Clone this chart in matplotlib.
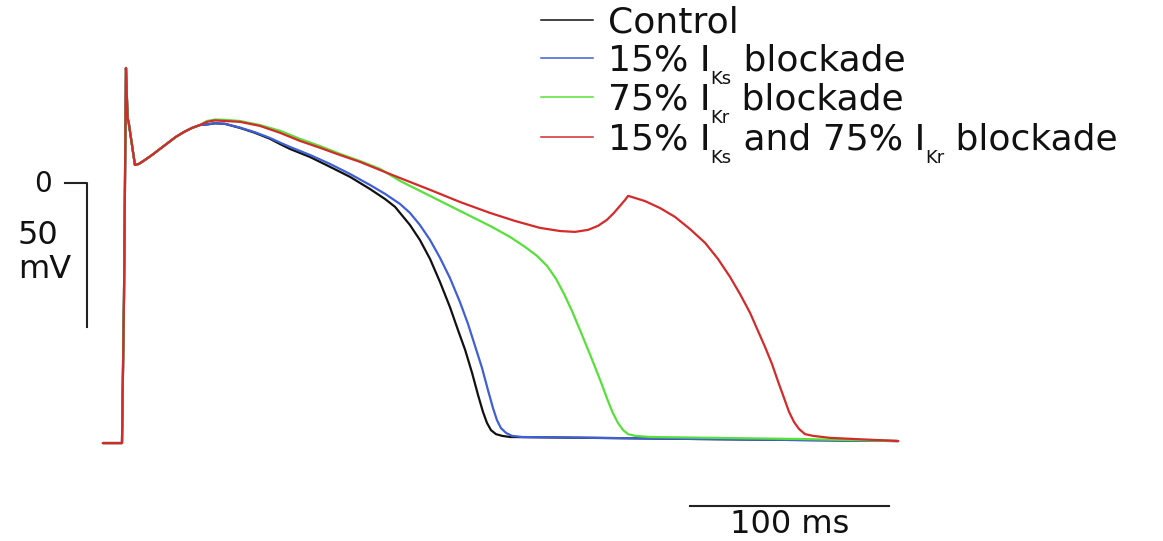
import matplotlib
matplotlib.use("Agg")
import matplotlib.pyplot as plt

# ---- recorded traces: time (ms) vs membrane potential (mV) ----
# common upstroke, notch and early dome shared by all four simulations
t_early = [-10.6, -1.0, 0.0, 1.0, 1.8, 2.4, 5.5, 7.5, 10.6, 14.1, 18.1, 22.1, 26.1, 30.2, 34.2, 38.2]
v_early = [-90.3, -90.3, -40.0, 39.9, 22.6, 20.8, 6.25, 6.6, 8.0, 9.7, 11.8, 13.9, 16.0, 17.7, 19.1, 20.1]

t_control = [41.7, 45.7, 50.8, 58.3, 65.8, 73.4, 78.4, 83.4, 93.5, 103.5, 113.6, 123.6,
             131.2, 136.2, 138.7, 143.7, 148.7, 153.8, 158.8, 163.8, 167.8, 171.4, 174.9,
             177.9, 180.4, 182.4, 184.4, 186.9, 190.0, 194.0, 289.4, 389.0]
v_control = [20.3, 20.7, 20.5, 19.1, 17.4, 15.3, 13.5, 11.8, 9.0, 5.6, 2.1, -2.1,
             -5.6, -8.3, -10.4, -14.6, -19.8, -26.4, -34.4, -43.1, -51.0, -57.9, -65.9,
             -73.6, -79.5, -83.3, -85.8, -87.2, -87.8, -88.2, -88.9, -89.6]

t_iks = [41.7, 45.7, 50.8, 58.3, 65.8, 73.4, 78.4, 83.4, 93.5, 103.5, 113.6, 123.6,
         131.2, 138.7, 143.7, 148.7, 153.8, 158.8, 163.8, 168.8, 172.9, 176.4, 179.9,
         182.9, 185.4, 187.4, 189.4, 192.0, 195.0, 200.0, 289.4, 389.0]
v_iks = [20.3, 20.7, 20.5, 19.2, 17.6, 15.6, 14.0, 12.5, 9.7, 6.6, 3.1, -0.7,
         -3.8, -7.3, -10.4, -14.6, -19.8, -26.0, -33.0, -41.3, -49.0, -56.6, -64.2,
         -71.9, -78.1, -82.3, -85.1, -86.8, -87.8, -88.2, -88.9, -89.6]

t_ikr = [41.7, 45.7, 50.8, 58.3, 68.3, 78.4, 88.4, 98.5, 108.5, 118.6, 128.6, 138.7,
         153.8, 168.8, 183.9, 194.0, 201.5, 207.5, 212.6, 217.1, 221.1, 225.1, 229.1,
         233.2, 236.7, 240.2, 243.2, 245.7, 248.2, 250.8, 253.3, 256.8, 264.3, 339.7, 389.0]
v_ikr = [21.5, 22.0, 21.9, 21.5, 20.1, 18.1, 15.3, 12.8, 10.1, 7.6, 4.9, 0.7,
         -4.5, -9.7, -14.9, -18.75, -22.2, -25.3, -28.8, -33.3, -38.5, -44.4, -51.0,
         -57.9, -63.9, -70.1, -75.7, -79.9, -83.3, -85.8, -87.2, -87.8, -88.2, -88.9, -89.6]

t_both = [41.7, 45.7, 50.8, 58.3, 68.3, 78.4, 88.4, 98.5, 108.5, 118.6, 128.6, 138.7,
          153.8, 168.8, 183.9, 196.5, 209.0, 219.1, 226.6, 233.2, 238.2, 242.7, 246.2,
          249.2, 251.8, 253.3, 255.3, 261.8, 269.3, 276.9, 284.4, 292.0, 298.5, 304.5,
          309.5, 314.6, 318.6, 322.1, 325.6, 328.6, 331.7, 334.2, 336.7, 339.2, 342.2,
          346.2, 354.8, 389.0]
v_both = [21.2, 21.7, 21.5, 21.2, 19.8, 17.4, 14.6, 12.2, 9.7, 7.3, 4.5, 1.7,
          -2.4, -6.6, -10.4, -13.2, -15.6, -16.7, -17.0, -16.3, -14.9, -12.8, -10.4,
          -8.0, -5.9, -4.5, -4.9, -6.3, -8.7, -11.8, -16.0, -20.8, -26.4, -32.6,
          -38.5, -45.1, -51.4, -56.9, -62.8, -68.8, -74.7, -79.5, -83.0, -85.4, -87.2,
          -87.8, -88.5, -89.6]

series_colors = ["#111111", "#3f5fd6", "#58e03a", "#d42a2a"]

legend_rows = [
    [("Control", False)],
    [("15% I", False), ("Ks", True), (" blockade", False)],
    [("75% I", False), ("Kr", True), (" blockade", False)],
    [("15% I", False), ("Ks", True), (" and 75% I", False), ("Kr", True), (" blockade", False)],
]

# scale bars
volt_bar_mv = 50
time_bar_ms = 100

W, H, DPI = 1163, 541, 100
fig = plt.figure(figsize=(W / DPI, H / DPI), dpi=DPI)
ax = fig.add_axes([0, 0, 1, 1])
ax.set_xlim(-62.3, 522.1)
ax.set_ylim(-124.3, 63.5)
ax.axis("off")

traces = [(t_control, v_control), (t_iks, v_iks), (t_ikr, v_ikr), (t_both, v_both)]
for (t, v), c in zip(traces, series_colors):
    ax.plot(t_early + t, v_early + v, color=c, lw=1.6, solid_joinstyle="round",
            solid_capstyle="round")

# voltage scale bar with a 0 mV tick
bar_t = -18.6
ax.plot([-29.6, bar_t, bar_t], [0, 0, -volt_bar_mv], color="#222222", lw=1.5)
ax.text(-40.7, -0.3, "0", fontsize=20, ha="center", va="center", color="#111111")
ax.text(-53.3, -18.1, "50", fontsize=23, ha="left", va="center", color="#111111")
ax.text(-53.3, -29.9, "mV", fontsize=23, ha="left", va="center", color="#111111")

# time scale bar
ax.plot([284.4, 284.4 + time_bar_ms], [-112.2, -112.2], color="#222222", lw=1.5)
ax.text(284.4 + time_bar_ms / 2, -121.6, "100 ms", fontsize=23, ha="center",
        va="baseline", color="#111111")

# legend built from text pieces so the subscripts sit low and small
renderer = fig.canvas.get_renderer()
fs = 26
sub_fs = fs * 0.5
row_y = [20, 58, 97, 137]
line_x0, line_x1, text_x = 541, 593, 608
em_px = fs * DPI / 72
for row, y, c in zip(legend_rows, row_y, series_colors):
    fy = 1 - y / H
    ax.plot([line_x0 / W, line_x1 / W], [fy, fy], transform=ax.transAxes,
            color=c, lw=1.1)
    base = 1 - (y + 0.34 * em_px) / H
    x = text_x
    for piece, is_sub in row:
        if is_sub:
            txt = fig.text(x / W, base - 0.38 * em_px / H, piece,
                           fontsize=sub_fs, ha="left", va="baseline", color="#111111")
        else:
            txt = fig.text(x / W, base, piece, fontsize=fs, ha="left",
                           va="baseline", color="#111111")
        x = txt.get_window_extent(renderer).x1

fig.savefig("out.png", dpi=DPI)
